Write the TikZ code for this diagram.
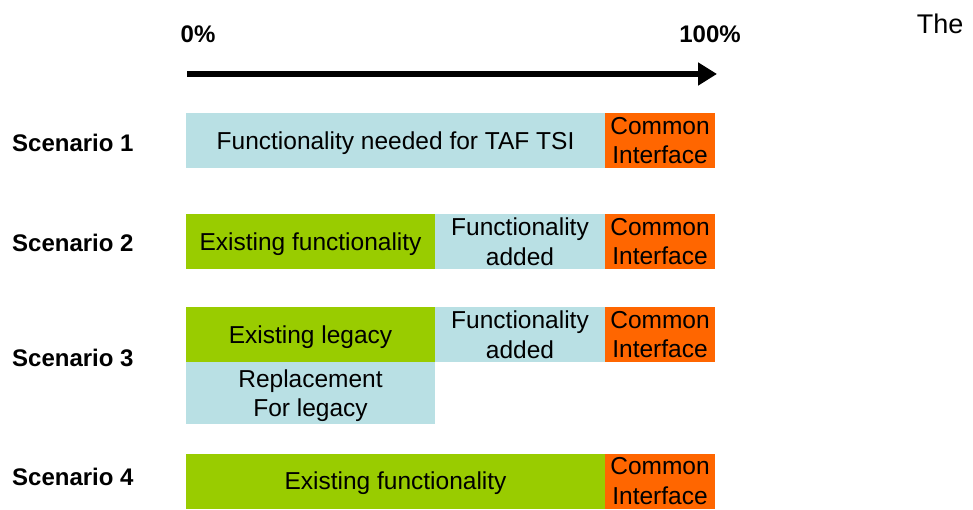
\documentclass[tikz,border=0pt]{standalone}
\usepackage{fontspec}
\setmainfont{Liberation Sans}
\usetikzlibrary{arrows.meta}
\definecolor{lblue}{RGB}{185,224,228}
\definecolor{lgreen}{RGB}{153,204,0}
\definecolor{orng}{RGB}{255,102,0}
\tikzset{
  box/.style={inner sep=0pt, outer sep=0pt, align=center, text depth=0pt, font=\fontsize{24.5}{29.5}\selectfont},
  bluebox/.style={box, fill=lblue},
  greenbox/.style={box, fill=lgreen},
  orangebox/.style={box, fill=orng},
  scen/.style={anchor=west, inner sep=0pt, font=\fontsize{24}{28}\selectfont\bfseries},
  pct/.style={inner sep=0pt, font=\fontsize{24}{28}\selectfont\bfseries},
}
\begin{document}
\begin{tikzpicture}[x=1pt,y=-1pt]
\useasboundingbox (0,0) rectangle (973,510);
% axis
\node[pct] (p0) at (198,34) {0\%};
\node[pct] (p100) at (710,34) {100\%};
\coordinate (a0) at (187,74);
\coordinate (a1) at (717,74);
\draw[line width=6pt, -{Triangle[length=19pt,width=22pt]}] (a0) -- (a1);
\node[inner sep=0pt, font=\fontsize{27}{30}\selectfont] (the) at (940,24) {The};
% scenario labels
\node[scen] (s1) at (12,143) {Scenario 1};
\node[scen] (s2) at (12,243) {Scenario 2};
\node[scen] (s3) at (12,358) {Scenario 3};
\node[scen] (s4) at (12,477) {Scenario 4};
% row 1
\node[bluebox, minimum width=419pt, minimum height=55pt] (r1a) at (395.5,140.5) {Functionality needed for TAF TSI};
\node[orangebox, minimum width=110pt, minimum height=55pt] (r1b) at (660,140.5) {Common\\Interface};
% row 2
\node[greenbox, minimum width=249pt, minimum height=55pt] (r2a) at (310.5,241.5) {Existing functionality};
\node[bluebox, minimum width=170pt, minimum height=55pt] (r2b) at (520,241.5) {Functionality\\added};
\node[orangebox, minimum width=110pt, minimum height=55pt] (r2c) at (660,241.5) {Common\\Interface};
% row 3
\node[greenbox, minimum width=249pt, minimum height=55pt] (r3a) at (310.5,334.5) {Existing legacy};
\node[bluebox, minimum width=170pt, minimum height=55pt] (r3b) at (520,334.5) {Functionality\\added};
\node[orangebox, minimum width=110pt, minimum height=55pt] (r3c) at (660,334.5) {Common\\Interface};
\node[bluebox, minimum width=249pt, minimum height=62pt] (r3d) at (310.5,393) {Replacement\\For legacy};
% row 4
\node[greenbox, minimum width=419pt, minimum height=55pt] (r4a) at (395.5,481) {Existing functionality};
\node[orangebox, minimum width=110pt, minimum height=55pt] (r4b) at (660,481) {Common\\Interface};
\end{tikzpicture}
\end{document}
